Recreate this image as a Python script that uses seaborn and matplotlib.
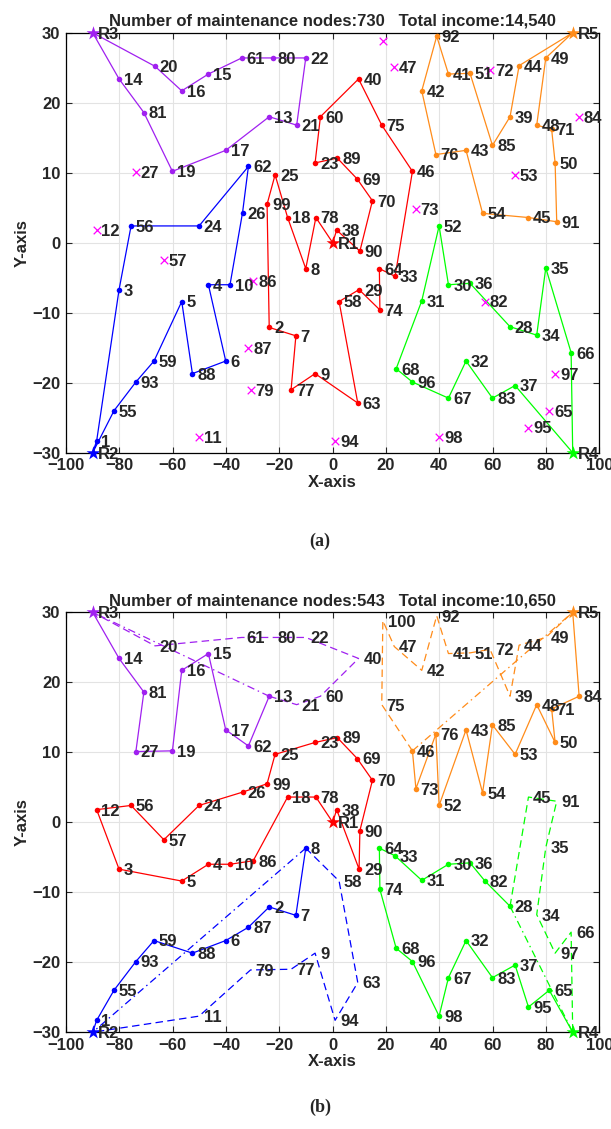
"""
Maintenance routing: routes from five depots, plan (a) vs plan (b)
"""

# %% Imports
import seaborn as sns
from matplotlib import pyplot as plt

# %% Data
NODE_X = [
    -88.5, -23.8, -80.1, -46.6, -56.6, -40.1, -13.8, -10.1, -6.6, -38.5,  # 1-10
    -50.1, -88.5, -23.8, -80.1, -46.6, -56.6, -40.1, -16.9, -60.1, -66.6,  # 11-20
    -13.5, -10.1, -6.6, -50.1, -21.6, -33.8, -73.8, 66.5, 9.9, 43.4,  # 21-30
    33.4, 50.0, 23.4, 76.5, 79.9, 51.5, 68.4, 1.5, 66.5, 9.7,  # 31-40
    43.4, 33.4, 50.0, 69.9, 73.4, 29.9, 23.1, 76.5, 79.9, 83.4,  # 41-50
    51.5, 39.9, 68.4, 56.2, -82.0, -75.6, -63.3, 2.4, -67.0, -4.6,  # 51-60
    -34.1, -31.6, 9.4, 17.5, 81.2, 89.4, 43.4, 23.8, 9.2, 14.9,  # 61-70
    82.1, 59.0, 31.2, 17.7, 18.4, 38.7, -15.6, -6.3, -30.8, -22.5,  # 71-80
    -70.8, 57.1, 59.9, 92.4, 59.9, -29.8, -31.6, -52.6, 1.7, 10.2,  # 81-90
    84.0, 39.0, -73.8, 0.9, 73.4, 29.9, 83.4, 39.9, -24.6, 18.8,  # 91-100
]
NODE_Y = [
    -28.3, -12.1, -6.7, -6.0, -8.4, -16.9, -13.3, -3.7, -18.7, -6.0,  # 1-10
    -27.7, 1.8, 18.0, 23.4, 24.1, 21.7, 13.2, 3.6, 10.2, 25.2,  # 11-20
    16.8, 26.4, 11.4, 2.4, 9.7, 4.3, 10.1, -12.0, -6.7, -6.0,  # 21-30
    -8.3, -16.9, -4.8, -13.2, -3.6, -5.8, -20.4, 1.8, 18.0, 23.4,  # 31-40
    24.1, 21.7, 13.2, 25.3, 3.6, 10.2, 25.1, 16.8, 26.4, 11.4,  # 41-50
    24.2, 2.4, 9.7, 4.2, -24.0, 2.4, -2.5, -8.4, -16.9, 18.0,  # 51-60
    26.4, 10.9, -22.9, -3.7, -24.0, -15.7, -22.2, -18.0, 9.1, 6.0,  # 61-70
    16.2, 24.7, 4.8, -9.6, 16.8, 12.6, -21.0, 3.6, -21.1, 26.4,  # 71-80
    18.6, -8.4, -22.2, 18.0, 13.9, -5.5, -15.0, -18.7, 12.1, -1.2,  # 81-90
    3.0, 29.5, -19.9, -28.3, -26.4, -19.9, -18.7, -27.7, 5.5, 28.8,  # 91-100
]
DEPOT_IDS = ["R1", "R2", "R3", "R4", "R5"]
DEPOT_X = [0, -90, -90, 90, 90]
DEPOT_Y = [0, -30, 30, -30, 30]
DEPOT_COLORS = ["#ff0000", "#0000ff", "#a020f0", "#00ff00", "#ff8c1a"]

# plan (a): one closed tour per depot
A_ROUTES = {
    "R1": ["R1", 78, 8, 18, 25, 99, 2, 7, 77, 9, 63, 58, 29, 74, 64, 33, 46, 75, 40, 60, 23, 89, 69, 70, 90, 38, "R1"],
    "R2": ["R2", 1, 3, 56, 24, 62, 26, 10, 4, 6, 88, 5, 59, 93, 55, "R2"],
    "R3": ["R3", 20, 16, 15, 61, 80, 22, 21, 13, 17, 19, 81, 14, "R3"],
    "R4": ["R4", 37, 83, 32, 67, 96, 68, 31, 52, 30, 36, 28, 34, 35, 66, "R4"],
    "R5": ["R5", 44, 39, 85, 51, 41, 92, 42, 76, 43, 54, 45, 91, 50, 71, 48, 49, "R5"],
}
A_TITLE = "Number of maintenance nodes:730   Total income:14,540"

# plan (b): solid, dashed and dash-dot legs per depot
B_SOLID = {
    "R1": ["R1", 38, 29, 90, 70, 69, 89, 23, 25, 99, 26, 24, 57, 56, 12, 3, 5, 4, 10, 86, 18, 78, "R1"],
    "R2": ["R2", 1, 55, 93, 59, 88, 6, 87, 2, 7, 8],
    "R3": ["R3", 14, 81, 27, 19, 16, 15, 17, 62, 13],
    "R4": ["R4", 65, 95, 37, 83, 32, 67, 98, 96, 68, 74, 64, 33, 31, 30, 36, 82, 28],
    "R5": ["R5", 84, 71, 50, 48, 53, 85, 54, 43, 52, 76, 73, 46],
}
B_DASHED = {
    "R2": [8, 58, 63, 94, 9, 77, 79, 11, "R2"],
    "R3": [13, 21, 60, 40, 22, 80, 61, 20, "R3"],
    "R4": [28, 45, 91, 35, 34, 97, 66, "R4"],
    "R5": [46, 75, 100, 47, 42, 92, 41, 51, 72, 39, 44, 49, "R5"],
}
B_DASHDOT = {
    "R2": [8, "R2"],
    "R3": [13, "R3"],
    "R4": [28, "R4"],
    "R5": [46, "R5"],
}
B_TITLE = "Number of maintenance nodes:543   Total income:10,650"

DASHED = (0, (6, 3.5))
DASHDOT = (0, (6, 3, 1.2, 3))
FS = 12


# %% Functions
def _pos(node):
    if isinstance(node, str):
        i = DEPOT_IDS.index(node)
        return DEPOT_X[i], DEPOT_Y[i]
    return NODE_X[node - 1], NODE_Y[node - 1]


def _draw_leg(ax, route, color, ls="-", dots=True):
    xs = [_pos(n)[0] for n in route]
    ys = [_pos(n)[1] for n in route]
    sns.lineplot(x=xs, y=ys, sort=False, estimator=None, color=color, linewidth=0.9, linestyle=ls, ax=ax, zorder=2)
    if dots:
        nodes = [n for n in route if not isinstance(n, str)]
        sns.scatterplot(
            x=[_pos(n)[0] for n in nodes],
            y=[_pos(n)[1] for n in nodes],
            color=color,
            s=16,
            linewidth=0,
            ax=ax,
            zorder=3,
        )


def _label(ax, x, y, text):
    ax.text(x + 1.8, y - 0.2, text, fontsize=FS, fontweight="bold", ha="left", va="center", zorder=5)


def _setup_axes(ax, title):
    ax.set_xlim(-100, 100)
    ax.set_ylim(-30, 30)
    ax.set_xticks(range(-100, 101, 20))
    ax.set_yticks(range(-30, 31, 10))
    ax.grid(True, color="#e3e3e3", linewidth=0.8, zorder=0)
    ax.set_axisbelow(True)
    for side in ["top", "right", "bottom", "left"]:
        ax.spines[side].set_visible(True)
        ax.spines[side].set_color("k")
        ax.spines[side].set_linewidth(0.9)
    ax.tick_params(direction="in", top=True, right=True, length=4, width=0.8, labelsize=FS, pad=4)
    ax.set_xlabel("X-axis", fontsize=FS, fontweight="bold", labelpad=1)
    ax.set_ylabel("Y-axis", fontsize=FS, fontweight="bold", labelpad=2)
    ax.set_title(title, fontsize=FS, fontweight="bold", pad=5)


def _draw_depots(ax):
    for d, x, y, c in zip(DEPOT_IDS, DEPOT_X, DEPOT_Y, DEPOT_COLORS):
        sns.scatterplot(x=[x], y=[y], marker="*", s=110, color=c, linewidth=0, ax=ax, zorder=4, clip_on=False)
        _label(ax, x, y, d)


def plot_plan_a(ax):
    visited = set()
    for d, c in zip(DEPOT_IDS, DEPOT_COLORS):
        route = A_ROUTES[d]
        _draw_leg(ax, route, c)
        visited.update(n for n in route if not isinstance(n, str))
    missing = [n for n in range(1, 101) if n not in visited]
    sns.scatterplot(
        x=[_pos(n)[0] for n in missing],
        y=[_pos(n)[1] for n in missing],
        marker="x",
        s=30,
        color="#ff00ff",
        linewidth=0.9,
        ax=ax,
        zorder=3,
    )
    for n in range(1, 100):
        _label(ax, *_pos(n), str(n))
    _draw_depots(ax)
    _setup_axes(ax, A_TITLE)


def plot_plan_b(ax):
    for d, c in zip(DEPOT_IDS, DEPOT_COLORS):
        _draw_leg(ax, B_SOLID[d], c)
        if d in B_DASHED:
            _draw_leg(ax, B_DASHED[d], c, ls=DASHED, dots=False)
            _draw_leg(ax, B_DASHDOT[d], c, ls=DASHDOT, dots=False)
    for n in range(1, 101):
        _label(ax, *_pos(n), str(n))
    _draw_depots(ax)
    _setup_axes(ax, B_TITLE)


# %% Figure
sns.set_style("ticks")
plt.rcParams["font.family"] = ["Liberation Sans", "DejaVu Sans"]
plt.rcParams["font.weight"] = "bold"

fig = plt.figure(figsize=(6.11, 11.29), dpi=100)
ax_a = fig.add_axes([0.108, 0.599, 0.873, 0.372])
ax_b = fig.add_axes([0.108, 0.0857, 0.873, 0.372])
plot_plan_a(ax_a)
plot_plan_b(ax_b)

for label, y in [("(a)", 541), ("(b)", 1107)]:
    fig.text(320 / 611, 1 - y / 1129, label, ha="center", va="center", fontsize=13, fontweight="bold",
             family=["Liberation Serif", "DejaVu Serif"])

fig.savefig("out.png", dpi=100)
